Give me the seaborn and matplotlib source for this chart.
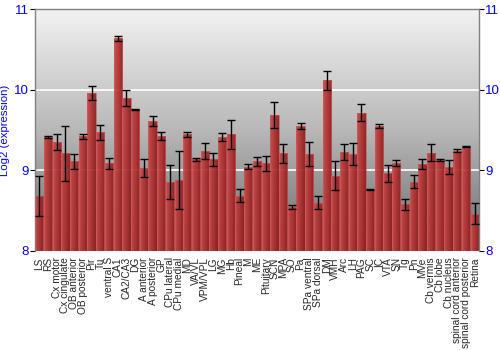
import numpy as np
import pandas as pd
import matplotlib
matplotlib.use("Agg")
import matplotlib.pyplot as plt
import seaborn as sns
from matplotlib.colors import LinearSegmentedColormap

regions = ["LS", "RS", "Cx motor", "Cx cingulate", "OB anterior", "OB posterior", "Pir", "Tu",
           "ventral S", "CA1", "CA2/CA3", "DG", "A anterior", "A posterior", "GP", "CPu lateral",
           "CPu medial", "MD", "VA/VL", "VPM/VPL", "LG", "MG", "Hb", "Pineal", "M", "ME",
           "Pituitary", "SCN", "MPA", "SO", "Pa", "SPa ventral", "SPa dorsal", "DM", "VMH", "Arc",
           "LH", "PAG", "SC", "IC", "VTA", "SN", "Tg", "Pn", "MVe", "Cb vermis", "Cb lobe",
           "Cb nucleus", "spinal cord anterior", "spinal cord posterior", "Retina"]
values = [8.685, 9.415, 9.35, 9.21, 9.11, 9.42, 9.96, 9.47, 9.085, 10.637, 9.90, 9.758, 9.03,
          9.61, 9.424, 8.854, 8.883, 9.448, 9.135, 9.242, 9.135, 9.415, 9.448, 8.685, 9.044,
          9.11, 9.085, 9.688, 9.209, 8.544, 9.547, 9.20, 8.598, 10.117, 8.932, 9.225, 9.205,
          9.716, 8.759, 9.551, 8.961, 9.093, 8.577, 8.858, 9.081, 9.217, 9.13, 9.04, 9.242,
          9.295, 8.462]
errors = [0.25, 0.01, 0.097, 0.34, 0.09, 0.03, 0.087, 0.09, 0.07, 0.035, 0.1, 0.005, 0.11,
          0.065, 0.05, 0.21, 0.36, 0.03, 0.02, 0.1, 0.08, 0.045, 0.18, 0.08, 0.03, 0.06, 0.09,
          0.16, 0.12, 0.02, 0.035, 0.15, 0.08, 0.115, 0.18, 0.1, 0.14, 0.11, 0.005, 0.02, 0.1,
          0.04, 0.07, 0.08, 0.065, 0.105, 0.01, 0.09, 0.02, 0.01, 0.13]
yticks = [8, 9, 10, 11]

df = pd.DataFrame({"region": regions, "value": values, "err": errors})

sns.set_style("white")
plt.rcParams["font.family"] = ["Liberation Sans", "DejaVu Sans"]

fig = plt.figure(figsize=(5, 3.5), dpi=100)
ax = fig.add_axes([0.07, 0.283, 0.888, 0.691])

sns.barplot(data=df, x="region", y="value", errorbar=None, width=0.95,
            color="#b03030", ax=ax, zorder=3)

ax.set_xlim(-0.5, len(regions) - 0.5)
ax.set_ylim(8, 11)

# background gradient
bg = LinearSegmentedColormap.from_list("bg", ["#6a6a6a", "#b8b8b8", "#f2f2f2"])
grad = np.linspace(0, 1, 256).reshape(-1, 1)
ax.imshow(grad, cmap=bg, aspect="auto", origin="lower",
          extent=[-0.5, len(regions) - 0.5, 8, 11], zorder=0)

# bar gradients
barcm = LinearSegmentedColormap.from_list("bar", ["#c94a4a", "#b83636", "#a42828", "#8c1c1c"])
hgrad = np.linspace(0, 1, 64).reshape(1, -1)
for p in ax.patches:
    x0 = p.get_x(); w = p.get_width(); h = p.get_height()
    p.set_facecolor((0, 0, 0, 0))
    p.set_edgecolor("#cc5a5a")
    p.set_linewidth(0.5)
    im = ax.imshow(hgrad, cmap=barcm, aspect="auto", alpha=0.92,
                   extent=[x0, x0 + w, 8, max(h, 8)], zorder=2)
    im.set_clip_path(p)

ax.errorbar(np.arange(len(regions)), df["value"], yerr=df["err"], fmt="none",
            ecolor="black", elinewidth=1, capsize=3, capthick=1, zorder=4)

ax.set_xlim(-0.5, len(regions) - 0.5)
ax.set_ylim(8, 11)
ax.set_yticks(yticks)
ax.set_yticklabels([str(t) for t in yticks])
for t in [9, 10]:
    ax.axhline(t, color="white", lw=1.2, zorder=1)

ax.tick_params(axis="y", left=True, right=True, labelleft=True, labelright=True,
               length=3.5, width=0.8, color="black", labelcolor="#0000ff", labelsize=9.5, pad=1)
ax.tick_params(axis="x", bottom=False, labelsize=7.3, pad=1)
ax.set_xticks(np.arange(len(regions)))
ax.set_xticklabels(regions, rotation=90)
ax.set_xlabel("")
ax.set_ylabel("Log2 (expression)", color="#0000ff", fontsize=8.2, labelpad=3)

for s in ["left", "right", "top"]:
    ax.spines[s].set_color("#808080")
    ax.spines[s].set_linewidth(1)
ax.spines["bottom"].set_visible(False)

fig.savefig("out.png", dpi=100)
